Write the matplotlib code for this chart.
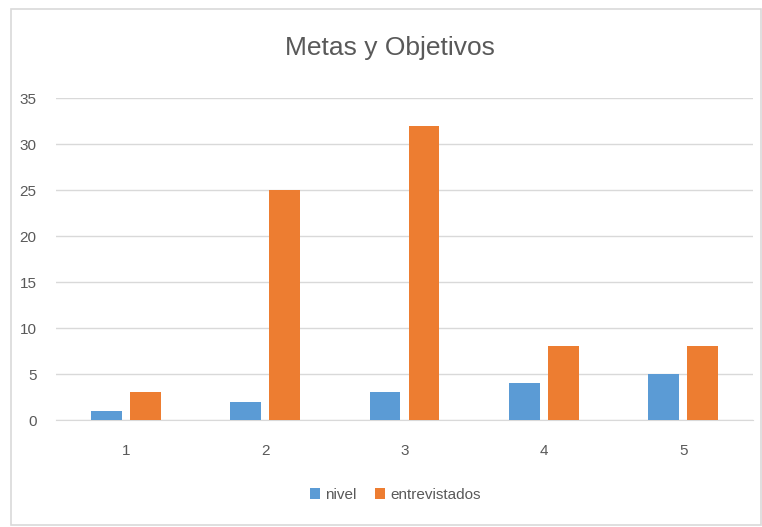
import matplotlib
matplotlib.use("Agg")
import matplotlib.pyplot as plt
import numpy as np
from matplotlib.patches import Rectangle

categories = ["1", "2", "3", "4", "5"]
nivel = [1, 2, 3, 4, 5]
entrevistados = [3, 25, 32, 8, 8]
yticks = [0, 5, 10, 15, 20, 25, 30, 35]

fam = ['Liberation Sans Narrow', 'Liberation Sans', 'DejaVu Sans']
plt.rcParams['font.family'] = fam

W, H = 762, 527
fig = plt.figure(figsize=(W/100, H/100), dpi=100)
fig.patches.append(Rectangle((11/W, 2/H), (W-12)/W, (H-11)/H, transform=fig.transFigure,
                             fill=False, edgecolor='#d9d9d9', linewidth=1.2))
ax = fig.add_axes([56/W, 1-420/H, (753-56)/W, (420-98)/H])

x = np.arange(len(categories))
bw = 0.22
off = 0.14
ax.bar(x - off, nivel, bw, color='#5B9BD5', label='nivel', zorder=3)
ax.bar(x + off, entrevistados, bw, color='#ED7D31', label='entrevistados', zorder=3)

ax.set_xlim(-0.5, len(categories) - 0.5)
ax.set_ylim(0, 35)
ax.set_yticks(yticks)
ax.set_xticks(x)
ax.set_xticklabels(categories)
ax.grid(axis='y', color='#d9d9d9', linewidth=1, zorder=0)
for s in ['top', 'right', 'left']:
    ax.spines[s].set_visible(False)
ax.spines['bottom'].set_color('#d9d9d9')
ax.tick_params(axis='both', length=0, colors='#595959', labelsize=11)
ax.tick_params(axis='y', pad=14)
ax.tick_params(axis='x', pad=17)

fig.text(390/W, 1-48/H, 'Metas y Objetivos', ha='center', va='center',
         fontsize=19, color='#595959')

leg = fig.legend(loc='center', bbox_to_anchor=(395/W, 1-495/H), ncol=2, frameon=False,
                 fontsize=11, handlelength=0.7, handleheight=0.7, handletextpad=0.3,
                 columnspacing=1.2)
for t in leg.get_texts():
    t.set_color('#595959')

fig.savefig('out.png', dpi=100)
